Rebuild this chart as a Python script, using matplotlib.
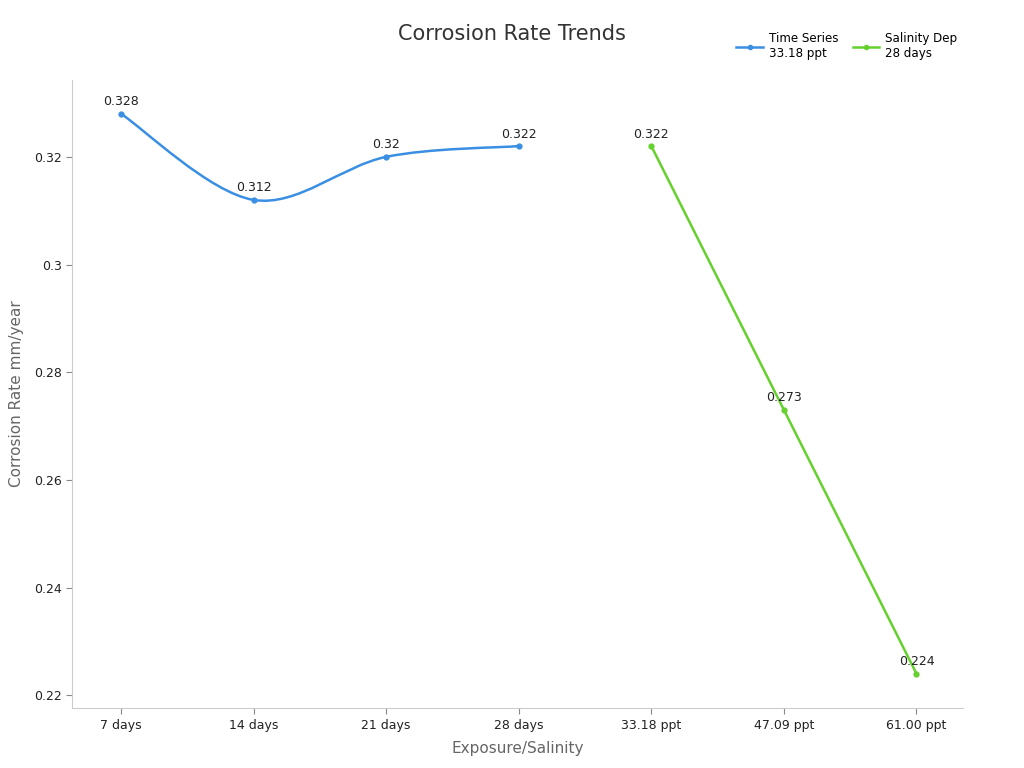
import matplotlib.pyplot as plt
from matplotlib.path import Path
from matplotlib.patches import PathPatch

# categories on the x axis
categories = ['7 days', '14 days', '21 days', '28 days', '33.18 ppt', '47.09 ppt', '61.00 ppt']

# time series at 33.18 ppt (first four categories)
time_idx = [0, 1, 2, 3]
time_vals = [0.328, 0.312, 0.320, 0.322]

# salinity dependence at 28 days (last three categories)
sal_idx = [4, 5, 6]
sal_vals = [0.322, 0.273, 0.224]

blue = '#3a8fe3'
green = '#66d12e'


def smooth_path(xs, ys):
    # catmull-rom style bezier through the points
    n = len(xs)
    verts = [(xs[0], ys[0])]
    codes = [Path.MOVETO]
    for i in range(n - 1):
        x0, y0 = xs[max(i - 1, 0)], ys[max(i - 1, 0)]
        x1, y1 = xs[i], ys[i]
        x2, y2 = xs[i + 1], ys[i + 1]
        x3, y3 = xs[min(i + 2, n - 1)], ys[min(i + 2, n - 1)]
        c1 = (x1 + (x2 - x0) / 6, y1 + (y2 - y0) / 6)
        c2 = (x2 - (x3 - x1) / 6, y2 - (y3 - y1) / 6)
        verts += [c1, c2, (x2, y2)]
        codes += [Path.CURVE4] * 3
    return Path(verts, codes)


fig = plt.figure(figsize=(10.24, 7.68), dpi=100)
ax = fig.add_axes([0.0703, 0.078, 0.870, 0.818])

ax.add_patch(PathPatch(smooth_path(time_idx, time_vals), facecolor='none',
                       edgecolor=blue, lw=1.8))
ax.plot(time_idx, time_vals, 'o', color=blue, ms=3.5)
ax.plot(sal_idx, sal_vals, '-o', color=green, lw=1.8, ms=3.5)

for x, y in zip(time_idx + sal_idx, time_vals + sal_vals):
    ax.annotate(f'{y:g}', (x, y), xytext=(0, 4), textcoords='offset points',
                ha='center', va='bottom', fontsize=9, color='#222222')

ax.set_xlim(-0.37, 6.35)
ax.set_ylim(0.2176, 0.3343)
ax.set_xticks(range(len(categories)))
ax.set_xticklabels(categories)
ax.set_yticks([0.22, 0.24, 0.26, 0.28, 0.30, 0.32])
ax.set_yticklabels(['0.22', '0.24', '0.26', '0.28', '0.3', '0.32'])
ax.tick_params(labelsize=9, colors='#222222', length=4, width=0.8)
ax.tick_params(axis='both', color='#888888')

for s in ['top', 'right']:
    ax.spines[s].set_visible(False)
for s in ['left', 'bottom']:
    ax.spines[s].set_color('#cccccc')

ax.set_xlabel('Exposure/Salinity', fontsize=11, color='#666666', labelpad=7)
ax.set_ylabel('Corrosion Rate mm/year', fontsize=11, color='#666666', labelpad=7)

fig.suptitle('Corrosion Rate Trends', x=0.5, y=0.969, fontsize=15, color='#333333')

h1 = plt.Line2D([], [], color=blue, lw=1.8, marker='o', ms=3)
h2 = plt.Line2D([], [], color=green, lw=1.8, marker='o', ms=3)
fig.legend([h1, h2], ['Time Series\n33.18 ppt', 'Salinity Dep\n28 days'],
           loc='upper right', bbox_to_anchor=(0.945, 0.972), ncol=2, frameon=False,
           fontsize=8.6, handlelength=2.2, columnspacing=1.2, handletextpad=0.5)

fig.savefig('out.png', dpi=100)
